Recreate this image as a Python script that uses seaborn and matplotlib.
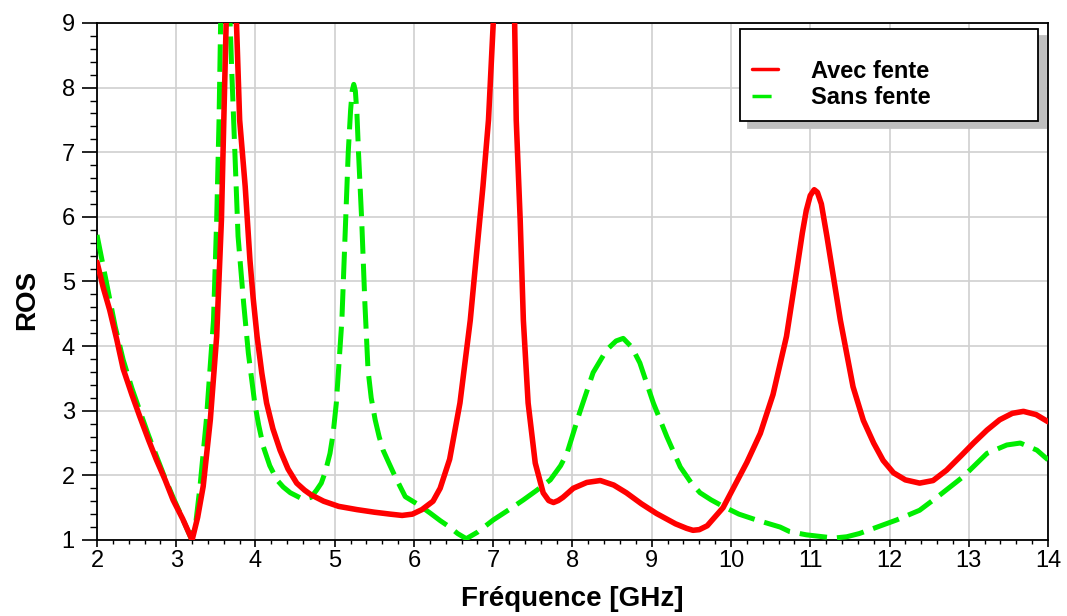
import matplotlib
matplotlib.use("Agg")
import matplotlib.pyplot as plt
from matplotlib.ticker import MultipleLocator
import seaborn as sns

# "Avec fente" (with slot)
freq_avec = [2.00, 2.08, 2.16, 2.25, 2.33, 2.44, 2.54, 2.65, 2.75, 2.86, 2.96, 3.08, 3.20,
             3.27, 3.34, 3.43, 3.51, 3.57, 3.61, 3.63, 3.70, 3.76, 3.80, 3.87, 3.93, 3.97,
             4.02, 4.08, 4.14, 4.22, 4.31, 4.41, 4.52, 4.62, 4.70, 4.86, 5.05, 5.28, 5.50,
             5.70, 5.85, 5.98, 6.10, 6.24, 6.33, 6.45, 6.58, 6.71, 6.79, 6.87, 6.94, 7.00,
             7.13, 7.27, 7.29, 7.34, 7.38, 7.44, 7.53, 7.63, 7.70, 7.76, 7.82, 7.88, 8.01,
             8.18, 8.35, 8.52, 8.68, 8.87, 9.06, 9.30, 9.44, 9.52, 9.60, 9.70, 9.90, 10.05,
             10.20, 10.37, 10.53, 10.70, 10.83, 10.90, 10.95, 11.00, 11.05, 11.09, 11.14,
             11.21, 11.38, 11.54, 11.67, 11.80, 11.92, 12.05, 12.20, 12.38, 12.55, 12.72,
             12.90, 13.06, 13.23, 13.39, 13.55, 13.69, 13.85, 14.00]
ros_avec = [5.30, 4.90, 4.56, 4.10, 3.65, 3.25, 2.91, 2.55, 2.24, 1.93, 1.62, 1.33, 1.00,
            1.35, 1.83, 2.86, 4.15, 5.95, 8.00, 9.00, 11.0, 9.00, 7.50, 6.47, 5.33, 4.75,
            4.15, 3.58, 3.12, 2.72, 2.39, 2.10, 1.88, 1.77, 1.70, 1.60, 1.52, 1.47, 1.43,
            1.40, 1.38, 1.40, 1.47, 1.60, 1.80, 2.25, 3.12, 4.40, 5.44, 6.47, 7.50, 9.00,
            12.0, 9.00, 7.50, 5.95, 4.40, 3.12, 2.19, 1.73, 1.61, 1.58, 1.61, 1.66, 1.80,
            1.89, 1.92, 1.85, 1.73, 1.56, 1.41, 1.25, 1.18, 1.15, 1.16, 1.22, 1.50, 1.85,
            2.20, 2.65, 3.25, 4.15, 5.18, 5.75, 6.10, 6.33, 6.42, 6.38, 6.20,
            5.70, 4.40, 3.37, 2.85, 2.50, 2.23, 2.04, 1.93, 1.88, 1.92, 2.08,
            2.30, 2.50, 2.70, 2.86, 2.96, 2.99, 2.94, 2.83]

# "Sans fente" (without slot)
freq_sans = [2.00, 2.12, 2.23, 2.33, 2.44, 2.54, 2.65, 2.75, 2.86, 2.96, 3.08, 3.19, 3.25,
             3.30, 3.38, 3.47, 3.51, 3.54, 3.56, 3.62, 3.68, 3.70, 3.74, 3.78, 3.85, 3.91,
             3.99, 4.04, 4.10, 4.18, 4.27, 4.35, 4.44, 4.60, 4.70, 4.77, 4.83, 4.88, 4.94,
             4.98, 5.02, 5.09, 5.13, 5.17, 5.20, 5.22, 5.24, 5.26, 5.28, 5.30, 5.34, 5.38,
             5.42, 5.46, 5.51, 5.56, 5.61, 5.68, 5.74, 5.82, 5.89, 6.05, 6.20, 6.33, 6.45,
             6.55, 6.66, 6.80, 7.00, 7.20, 7.38, 7.55, 7.72, 7.85, 7.93, 8.09, 8.26, 8.43,
             8.55, 8.64, 8.75, 8.85, 9.02, 9.19, 9.36, 9.50, 9.61, 9.75, 9.90, 10.10,
             10.32, 10.62, 10.74, 10.95, 11.16, 11.30, 11.46, 11.62, 11.80, 12.09, 12.38,
             12.64, 12.93, 13.23, 13.48, 13.65, 13.86, 14.00]
ros_sans = [5.72, 4.98, 4.30, 3.79, 3.35, 3.00, 2.62, 2.30, 1.95, 1.66, 1.33, 1.02, 1.30,
            1.83, 2.86, 4.40, 5.95, 7.50, 9.00, 11.0, 9.00, 8.27, 6.99, 5.70, 4.67, 3.89,
            3.12, 2.78, 2.44, 2.15, 1.93, 1.82, 1.73, 1.63, 1.66, 1.77, 1.88, 2.05, 2.34,
            2.65, 3.12, 4.40, 5.70, 6.99, 7.65, 7.95, 8.05, 7.95, 7.60, 6.99, 5.95, 4.67,
            3.63, 3.20, 2.86, 2.60, 2.39, 2.20, 2.04, 1.84, 1.67, 1.55, 1.42, 1.30, 1.20,
            1.10, 1.02, 1.12, 1.31, 1.47, 1.62, 1.77, 1.93, 2.15, 2.34, 2.97, 3.59, 3.94,
            4.08, 4.12, 3.98, 3.74, 3.12, 2.60, 2.13, 1.88, 1.73, 1.62, 1.52, 1.40,
            1.31, 1.20, 1.13, 1.08, 1.05, 1.03, 1.05, 1.10, 1.18, 1.31, 1.46,
            1.70, 1.98, 2.34, 2.47, 2.50, 2.39, 2.24]

x_ticks = list(range(2, 15))
y_ticks = list(range(1, 10))

sns.set_style("white")
plt.rcParams['font.family'] = ['Liberation Sans', 'DejaVu Sans']
plt.rcParams['text.color'] = 'black'
plt.rcParams['axes.labelcolor'] = 'black'

fig = plt.figure(figsize=(10.67, 6.16), dpi=100)
ax = fig.add_axes([0.0909, 0.1234, 0.8913, 0.8393])

# green dashed drawn first so the red curve sits on top
sns.lineplot(x=freq_sans, y=ros_sans, ax=ax, color='#00ee00', lw=3.6,
             linestyle=(0, (5.5, 2)), label='Sans fente', zorder=3)
sns.lineplot(x=freq_avec, y=ros_avec, ax=ax, color='#ff0000', lw=4.0,
             label='Avec fente', zorder=4)

ax.set_xlim(2, 14)
ax.set_ylim(1, 9)
ax.set_xticks(x_ticks)
ax.set_yticks(y_ticks)
ax.xaxis.set_minor_locator(MultipleLocator(0.2))
ax.yaxis.set_minor_locator(MultipleLocator(0.2))
ax.grid(True, which='major', color='#d0d0d0', lw=1.2, zorder=0)
ax.set_axisbelow(True)

ax.tick_params(which='both', bottom=True, left=True, top=False, right=False,
               color='black', labelcolor='black')
ax.tick_params(axis='x', which='major', direction='out', length=5, width=1.2,
               labelsize=17, pad=2)
ax.tick_params(axis='x', which='minor', direction='out', length=3, width=1.0)
ax.tick_params(axis='y', which='major', direction='out', length=11, width=1.2,
               labelsize=17, pad=5)
ax.tick_params(axis='y', which='minor', direction='out', length=5, width=1.0)

for sp in ax.spines.values():
    sp.set_color('black')
    sp.set_linewidth(1.3)

ax.set_xlabel('Fréquence [GHz]', fontsize=20, fontweight='bold', labelpad=10)
ax.set_ylabel('ROS', fontsize=20, fontweight='bold')
ax.yaxis.set_label_coords(-0.060, 0.464)

handles, labels = ax.get_legend_handles_labels()
leg = ax.legend(handles[::-1], labels[::-1], loc='upper left',
                bbox_to_anchor=(0.676, 0.81, 0.3135, 0.178), mode='expand',
                borderaxespad=0, title=' ', title_fontsize=12,
                prop={'weight': 'bold', 'size': 17}, handlelength=1.1,
                handletextpad=1.4, borderpad=0.5, labelspacing=0.15,
                fancybox=False, framealpha=1, edgecolor='black',
                shadow={'ox': 6, 'oy': -5, 'color': '0.75', 'alpha': 1})
leg.get_frame().set_linewidth(1.3)
for h in leg.legend_handles:
    h.set_linewidth(2.5)

fig.savefig('out.png', dpi=100)
